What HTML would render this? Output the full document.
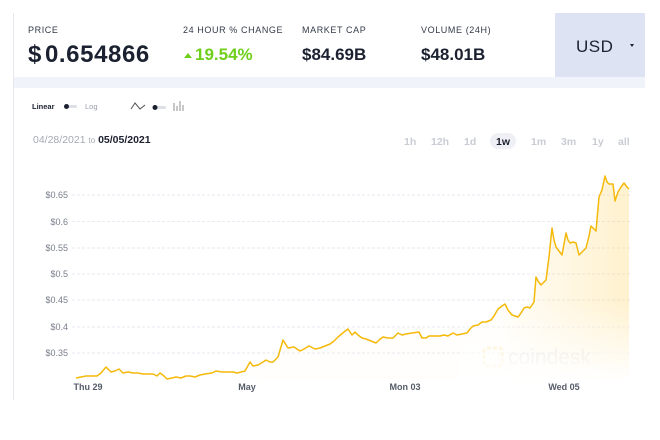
<!DOCTYPE html>
<html><head><style>
body{margin:0;width:660px;height:440px;background:#fff;font-family:"Liberation Sans",sans-serif;position:relative;overflow:hidden}
.a{position:absolute;white-space:nowrap}
.lbl{font-size:9px;letter-spacing:0.6px;color:#333a48;top:25px}
.val{font-weight:bold;color:#1b2130;font-size:17px;top:45px}
.t{font-size:10.5px;color:#c9ccd4;top:136px;font-weight:bold}
</style></head><body>
<div class="a" style="left:13px;top:13px;width:1px;height:387px;background:#e6e8ee"></div>
<div class="a" style="left:555px;top:13px;width:90px;height:64px;background:#dde3f2"></div>
<div class="a" style="left:14px;top:77px;width:631px;height:11px;background:#f0f3f9"></div>
<div class="a lbl" style="left:28px">PRICE</div>
<div class="a lbl" style="left:183px">24 HOUR % CHANGE</div>
<div class="a lbl" style="left:302px">MARKET CAP</div>
<div class="a lbl" style="left:421px">VOLUME (24H)</div>
<div class="a" style="left:28px;top:41px;font-size:24px;font-weight:bold;color:#1b2130;letter-spacing:0.6px">$<span style="margin-left:3px">0.654866</span></div>
<div class="a" style="left:184px;top:53px;width:0;height:0;border-left:4px solid transparent;border-right:4px solid transparent;border-bottom:5px solid #6fcf1a"></div>
<div class="a" style="left:195px;top:45px;font-size:17px;font-weight:bold;color:#6fcf1a">19.54%</div>
<div class="a val" style="left:302px">$84.69B</div>
<div class="a val" style="left:421px">$48.01B</div>
<div class="a" style="left:576px;top:37px;font-size:17px;color:#1b2130;letter-spacing:0.5px">USD</div>
<div class="a" style="left:630px;top:44px;width:0;height:0;border-left:2px solid transparent;border-right:2px solid transparent;border-top:3px solid #1b2130"></div>
<div class="a" style="left:32px;top:102px;font-size:7.5px;font-weight:bold;color:#1b2130">Linear</div>
<div class="a" style="left:65px;top:105px;width:12px;height:3px;background:#dde0e6;border-radius:2px"></div>
<div class="a" style="left:64px;top:104px;width:5px;height:5px;background:#1b2130;border-radius:3px"></div>
<div class="a" style="left:85px;top:102px;font-size:7.5px;color:#9aa0ab">Log</div>
<svg class="a" style="left:130px;top:100px" width="60" height="14"><polyline points="1,9 5,3 10,9 15,5" fill="none" stroke="#555" stroke-width="1"/><rect x="24" y="6" width="12" height="3" rx="1.5" fill="#dde0e6"/><circle cx="25" cy="7.5" r="2.5" fill="#1b2130"/><g stroke="#aaa" stroke-width="1.3"><line x1="44" y1="3" x2="44" y2="11"/><line x1="47" y1="6" x2="47" y2="11"/><line x1="50" y1="1" x2="50" y2="11"/><line x1="53" y1="5" x2="53" y2="11"/></g></svg>
<div class="a" style="left:33px;top:134px;font-size:10.5px;color:#a5a9b2">04/28/2021 <span style="font-size:8px">to</span> <span style="color:#1b2130;font-weight:bold">05/05/2021</span></div>
<div class="a t" style="left:404px">1h</div><div class="a t" style="left:431px">12h</div><div class="a t" style="left:464px">1d</div>
<div class="a" style="left:490px;top:133px;width:26px;height:16px;background:#eef0f5;border-radius:8px"></div>
<div class="a t" style="left:496px;color:#1b2130">1w</div>
<div class="a t" style="left:531px">1m</div><div class="a t" style="left:561px">3m</div><div class="a t" style="left:592px">1y</div><div class="a t" style="left:618px">all</div>
<svg class="a" style="left:0;top:0" width="660" height="440">
<defs><linearGradient id="g" x1="0" y1="0" x2="1" y2="0"><stop offset="0" stop-color="#ffc83c" stop-opacity="0"/><stop offset="0.75" stop-color="#ffc83c" stop-opacity="0.02"/><stop offset="1" stop-color="#ffc83c" stop-opacity="0.25"/></linearGradient>
<linearGradient id="v" x1="0" y1="0" x2="0" y2="1"><stop offset="0" stop-color="#fff" stop-opacity="0"/><stop offset="1" stop-color="#fff" stop-opacity="1"/></linearGradient></defs>
<g stroke="#e8eaf2" stroke-dasharray="3,2" stroke-width="1">
<line x1="72" y1="195" x2="630" y2="195"/><line x1="72" y1="221.5" x2="630" y2="221.5"/><line x1="72" y1="248" x2="630" y2="248"/><line x1="72" y1="274" x2="630" y2="274"/><line x1="72" y1="300" x2="630" y2="300"/><line x1="72" y1="327" x2="630" y2="327"/><line x1="72" y1="353" x2="630" y2="353"/></g>
<g font-size="9" fill="#777d8a" text-anchor="end" font-family="Liberation Sans">
<text x="68" y="198">$0.65</text><text x="68" y="225">$0.6</text><text x="68" y="251">$0.55</text><text x="68" y="277">$0.5</text><text x="68" y="303">$0.45</text><text x="68" y="330">$0.4</text><text x="68" y="356">$0.35</text></g>
<g font-size="9" fill="#555b68" text-anchor="middle" font-family="Liberation Sans" font-weight="bold">
<text x="88" y="390">Thu 29</text><text x="247" y="390">May</text><text x="405" y="390">Mon 03</text><text x="564" y="390">Wed 05</text></g>
<g opacity="0.35"><rect x="484" y="348" width="18" height="18" rx="3" fill="none" stroke="#f5c842" stroke-width="3" stroke-dasharray="4,2"/><text x="508" y="364" font-size="21" fill="#aab" font-family="Liberation Sans">coindesk</text></g>
<polygon fill="url(#g)" points="76,378 97,376 106,367 111,372 119,369 123,373 157,376 160,373 167,379 186,376 212,373 216,371 237,373 245,371 250,362 253,366 266,360 273,362 278,357 283,340 288,348 294,347 300,351 309,346 315,349 330,344 338,337 348,329 352,335 355,332 362,338 376,343 383,337 393,338 398,333 419,332 422,338 429,336 448,336 453,333 457,335 467,333 473,326 482,322 491,320 498,309 505,304 512,315 518,317 524,308 530,308 534,302 536,277 541,285 546,280 552,228 556,247 562,255 566,233 570,243 576,243 579,255 586,248 591,226 596,231 599,197 605,176 609,184 613,184 615,201 621,187 624,183 627,187 629,189 629,380 76,380"/>
<rect x="460" y="300" width="172" height="82" fill="url(#v)"/>
<polyline fill="none" stroke="#f5b90a" stroke-width="1.5" stroke-linejoin="round" points="76,378 81,377 86,376 91,376 97,376 101,373 106,367 111,372 115,371 119,369 123,373 128,372 133,373 138,373 143,374 148,374 153,374 157,376 160,373 164,376 167,379 172,378 176,377 181,378 186,376 190,376 195,377 200,375 205,374 212,373 216,371 222,372 228,372 233,372 237,373 241,372 245,371 250,362 253,366 258,365 263,362 266,360 270,362 273,362 278,357 283,340 288,348 294,347 300,351 304,349 309,346 315,349 320,348 325,346 330,344 334,341 338,337 344,332 348,329 352,335 355,332 358,335 362,338 366,339 371,341 376,343 379,340 383,337 388,338 393,338 398,333 402,335 406,334 412,333 419,332 422,338 426,338 429,336 434,336 440,336 444,335 448,336 453,333 457,335 462,334 467,333 470,329 473,326 478,325 482,322 486,322 491,320 494,316 498,309 502,306 505,304 508,310 512,315 515,316 518,317 521,313 524,308 527,307 530,308 534,302 536,277 538,281 541,285 543,283 546,280 549,257 552,228 554,240 556,247 559,251 562,255 566,233 568,240 570,243 573,242 576,243 579,255 583,251 586,248 589,236 591,226 594,229 596,231 599,197 602,190 605,176 607,182 609,184 611,184 613,184 615,201 618,192 621,187 624,183 627,187 629,189"/>
</svg>
</body></html>
